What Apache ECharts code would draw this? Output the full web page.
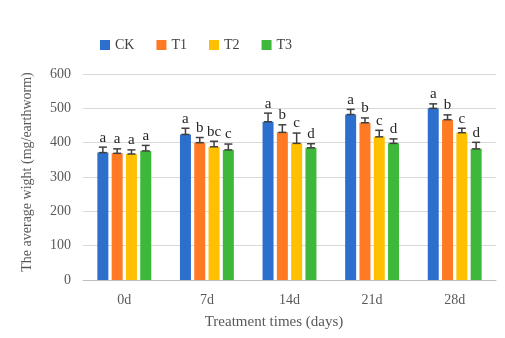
<!DOCTYPE html>
<html>
<head>
<meta charset="utf-8">
<script src="https://cdn.jsdelivr.net/npm/echarts@6/dist/echarts.min.js"></script>
<style>
  html, body { margin: 0; padding: 0; background: #fff; }
  #main { width: 505px; height: 338px; }
</style>
</head>
<body>
<div id="main"></div>
<script>
// data
const days = ['0d', '7d', '14d', '21d', '28d'];
const groups = ['CK', 'T1', 'T2', 'T3'];
const colors = ['#2D6FCC', '#FF7A22', '#FFC000', '#3DB83A'];

const meanCK = [371, 424, 461, 482, 500];
const meanT1 = [369, 400, 430, 458, 467];
const meanT2 = [367, 388, 398, 417, 429];
const meanT3 = [376, 379, 385, 398, 382];

const errCK = [16, 18, 25, 15, 13];
const errT1 = [13, 15, 22, 14, 14];
const errT2 = [12, 16, 30, 19, 13];
const errT3 = [16, 17, 12, 13, 19];

const sigCK = ['a', 'a', 'a', 'a', 'a'];
const sigT1 = ['a', 'b', 'b', 'b', 'b'];
const sigT2 = ['a', 'bc', 'c', 'c', 'c'];
const sigT3 = ['a', 'c', 'd', 'd', 'd'];

const means = [meanCK, meanT1, meanT2, meanT3];
const errs = [errCK, errT1, errT2, errT3];
const sigs = [sigCK, sigT1, sigT2, sigT3];

const serif = '"Liberation Serif", "Times New Roman", serif';
const barW = 11;
const gapRatio = 0.3;

// i-beam on top of each bar plus the letter above it
function errorItem(k) {
    return function (params, api) {
        const cat = api.value(0);
        const mean = api.value(1);
        const err = api.value(2);
        const base = api.coord([cat, mean]);
        const hi = api.coord([cat, mean + err]);
        const total = groups.length * barW + (groups.length - 1) * gapRatio * barW;
        const x = base[0] - total / 2 + k * barW * (1 + gapRatio) + barW / 2;
        const cap = 4;
        const st = { stroke: '#404040', lineWidth: 1.5 };
        return {
            type: 'group',
            children: [
                { type: 'line', shape: { x1: x, y1: base[1], x2: x, y2: hi[1] }, style: st },
                { type: 'line', shape: { x1: x - cap, y1: hi[1], x2: x + cap, y2: hi[1] }, style: st },
                { type: 'line', shape: { x1: x - cap, y1: base[1], x2: x + cap, y2: base[1] }, style: st },
                {
                    type: 'text',
                    style: {
                        x: x, y: hi[1] - 2, text: sigs[k][params.dataIndex],
                        textAlign: 'center', textVerticalAlign: 'bottom',
                        font: '15px ' + serif, fill: '#262626'
                    }
                }
            ]
        };
    };
}

const series = [];
groups.forEach((g, k) => {
    series.push({
        name: g,
        type: 'bar',
        data: means[k],
        barWidth: barW,
        barGap: (gapRatio * 100) + '%',
        itemStyle: { color: colors[k] },
        z: 2
    });
});
groups.forEach((g, k) => {
    series.push({
        type: 'custom',
        renderItem: errorItem(k),
        data: days.map((d, i) => [i, means[k][i], errs[k][i]]),
        encode: { x: 0, y: 1 },
        z: 5,
        silent: true
    });
});

const chart = echarts.init(document.getElementById('main'));
chart.setOption({
    animation: false,
    color: colors,
    legend: {
        data: groups,
        left: 95,
        top: 33,
        itemWidth: 10,
        itemHeight: 10,
        itemGap: 22,
        icon: 'rect',
        textStyle: { fontFamily: serif, fontSize: 14, color: '#404040' }
    },
    grid: { left: 83, right: 9, top: 74, bottom: 58 },
    xAxis: {
        type: 'category',
        data: days,
        axisTick: { show: false },
        axisLine: { lineStyle: { color: '#bfbfbf' } },
        axisLabel: { fontFamily: serif, fontSize: 14, color: '#595959', margin: 13 },
        name: 'Treatment times (days)',
        nameLocation: 'middle',
        nameGap: 35,
        nameTextStyle: { fontFamily: serif, fontSize: 15, color: '#595959', padding: [0, 31, 0, 0] }
    },
    yAxis: {
        type: 'value',
        min: 0,
        max: 600,
        interval: 100,
        axisLine: { show: false },
        axisTick: { show: false },
        splitLine: { lineStyle: { color: '#d9d9d9' } },
        axisLabel: { fontFamily: serif, fontSize: 14, color: '#595959', margin: 12 },
        name: 'The average wight (mg/earthworm)',
        nameLocation: 'middle',
        nameGap: 49,
        nameTextStyle: { fontFamily: serif, fontSize: 14, color: '#595959', padding: [0, 0, 0, 10] }
    },
    series: series
});
</script>
</body>
</html>
